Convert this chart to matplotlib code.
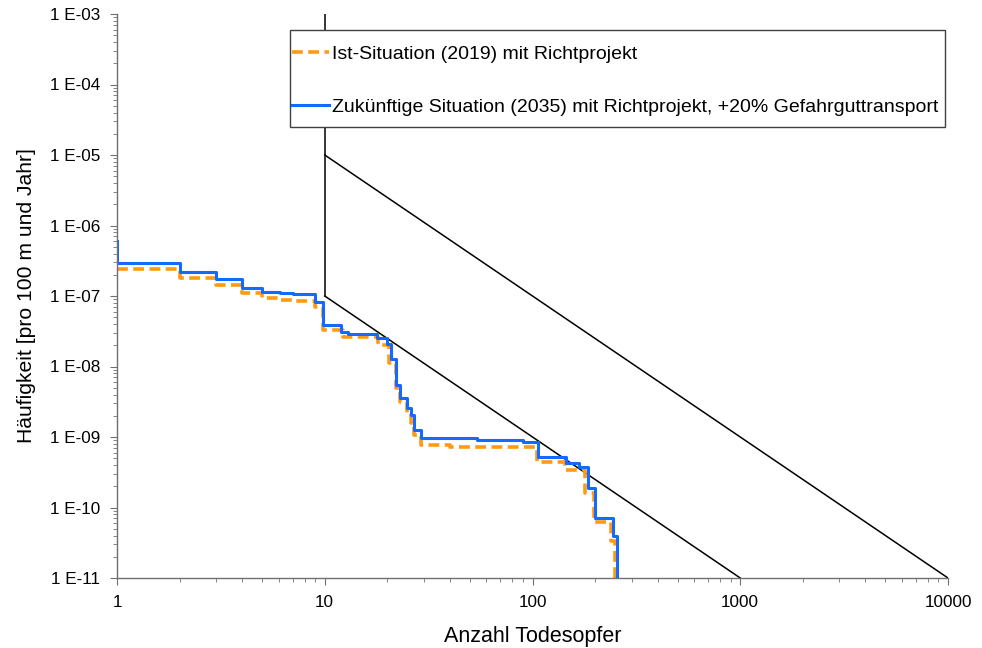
import matplotlib
matplotlib.use("Agg")
import matplotlib.pyplot as plt
from matplotlib.ticker import FuncFormatter, LogLocator, NullFormatter
from matplotlib.patches import Rectangle
import numpy as np

plt.rcParams['font.family'] = ['Liberation Sans', 'DejaVu Sans']

# Ist-Situation (2019): step start in x, frequency level
ist_x = [1, 2, 3, 4, 5, 6.1, 7, 9, 9.85, 12.2, 18, 20.4, 22, 23, 24.8, 26, 27,
         29, 40, 105, 143.5, 179, 197, 240, 250]
ist_y = [2.39e-7, 1.82e-7, 1.43e-7, 1.09e-7, 9.3e-8, 8.7e-8, 8.5e-8, 6.9e-8,
         3.3e-8, 2.65e-8, 2.04e-8, 1.12e-8, 5e-9, 3.15e-9, 2.2e-9, 1.6e-9,
         1.07e-9, 7.8e-10, 7.3e-10, 4.45e-10, 3.4e-10, 1.6e-10, 6.3e-11,
         3.3e-11, 1e-12]

# Zukuenftige Situation (2035)
fut_x = [1, 1, 2, 3, 4, 5, 6.1, 7, 9, 9.85, 12, 13, 17.8, 20, 20.8, 22, 23,
         24.8, 26, 27, 29, 54, 90, 106, 145, 168, 184, 200, 243, 256]
fut_y = [6e-7, 2.94e-7, 2.17e-7, 1.73e-7, 1.29e-7, 1.15e-7, 1.1e-7, 1.06e-7,
         8.3e-8, 3.9e-8, 3.1e-8, 2.9e-8, 2.5e-8, 2.09e-8, 1.26e-8, 5.5e-9,
         3.6e-9, 2.56e-9, 2.05e-9, 1.25e-9, 9.6e-10, 9.1e-10, 8.6e-10,
         5.2e-10, 4.25e-10, 3.8e-10, 1.88e-10, 7.2e-11, 3.9e-11, 1e-12]

# Grenzlinien
grenze_vert_x = [10, 10]
grenze_vert_y = [1e-7, 1e-3]
grenze_oben_x = [10, 10000]
grenze_oben_y = [1e-5, 1e-11]
grenze_unten_x = [10, 1000]
grenze_unten_y = [1e-7, 1e-11]

fig = plt.figure(figsize=(9.82, 6.48), dpi=100)
ax = fig.add_axes([117/982, 1-578/648, (948-117)/982, (578-14)/648])

ax.plot(grenze_vert_x, grenze_vert_y, color='black', lw=1.1)
ax.plot(grenze_oben_x, grenze_oben_y, color='black', lw=1.1)
ax.plot(grenze_unten_x, grenze_unten_y, color='black', lw=1.1)

ax.step(ist_x, ist_y, where='post', color='#FF9A14', lw=2.6,
        linestyle=(0, (3, 1.5)), label='Ist-Situation (2019) mit Richtprojekt')
ax.step(fut_x, fut_y, where='post', color='#1469FF', lw=2.2,
        label='Zukünftige Situation (2035) mit Richtprojekt, +20% Gefahrguttransport')

ax.set_xscale('log')
ax.set_yscale('log')
ax.set_xlim(1, 10000)
ax.set_ylim(1e-11, 1e-3)

ax.spines['top'].set_visible(False)
ax.spines['right'].set_visible(False)
for s in ('left', 'bottom'):
    ax.spines[s].set_color('#707070')
    ax.spines[s].set_linewidth(1.0)

ax.xaxis.set_major_locator(LogLocator(base=10, numticks=10))
ax.xaxis.set_minor_locator(LogLocator(base=10, subs=np.arange(2, 10), numticks=20))
ax.yaxis.set_major_locator(LogLocator(base=10, numticks=12))
ax.yaxis.set_minor_locator(LogLocator(base=10, subs=np.arange(2, 10), numticks=20))
ax.xaxis.set_major_formatter(FuncFormatter(lambda v, p: '%d' % round(v)))
ax.yaxis.set_major_formatter(FuncFormatter(lambda v, p: '1 E-%02d' % round(-np.log10(v))))
ax.xaxis.set_minor_formatter(NullFormatter())
ax.yaxis.set_minor_formatter(NullFormatter())
ax.tick_params(which='major', direction='out', length=5, color='#707070',
               labelsize=12.3, pad=7)
ax.tick_params(which='minor', direction='out', length=3, color='#707070')

ax.set_xlabel('Anzahl Todesopfer', fontsize=15.5, labelpad=12)
ax.set_ylabel('Häufigkeit [pro 100 m und Jahr]', fontsize=15.2, labelpad=10)

# legend box drawn separately (wide top padding, narrow side padding)
ax.add_patch(Rectangle((290/982, 1-127/648), 655/982, 97/648,
                       transform=fig.transFigure, facecolor='white',
                       edgecolor='#404040', lw=1.0, zorder=4))
leg = ax.legend(loc='center left', bbox_to_anchor=(292/982, 1-80.5/648),
                bbox_transform=fig.transFigure, borderaxespad=0,
                fontsize=14, handlelength=1.9, handletextpad=0.15,
                labelspacing=1.8, borderpad=0, frameon=False)
leg.set_zorder(6)

fig.savefig('out.png', dpi=100)
